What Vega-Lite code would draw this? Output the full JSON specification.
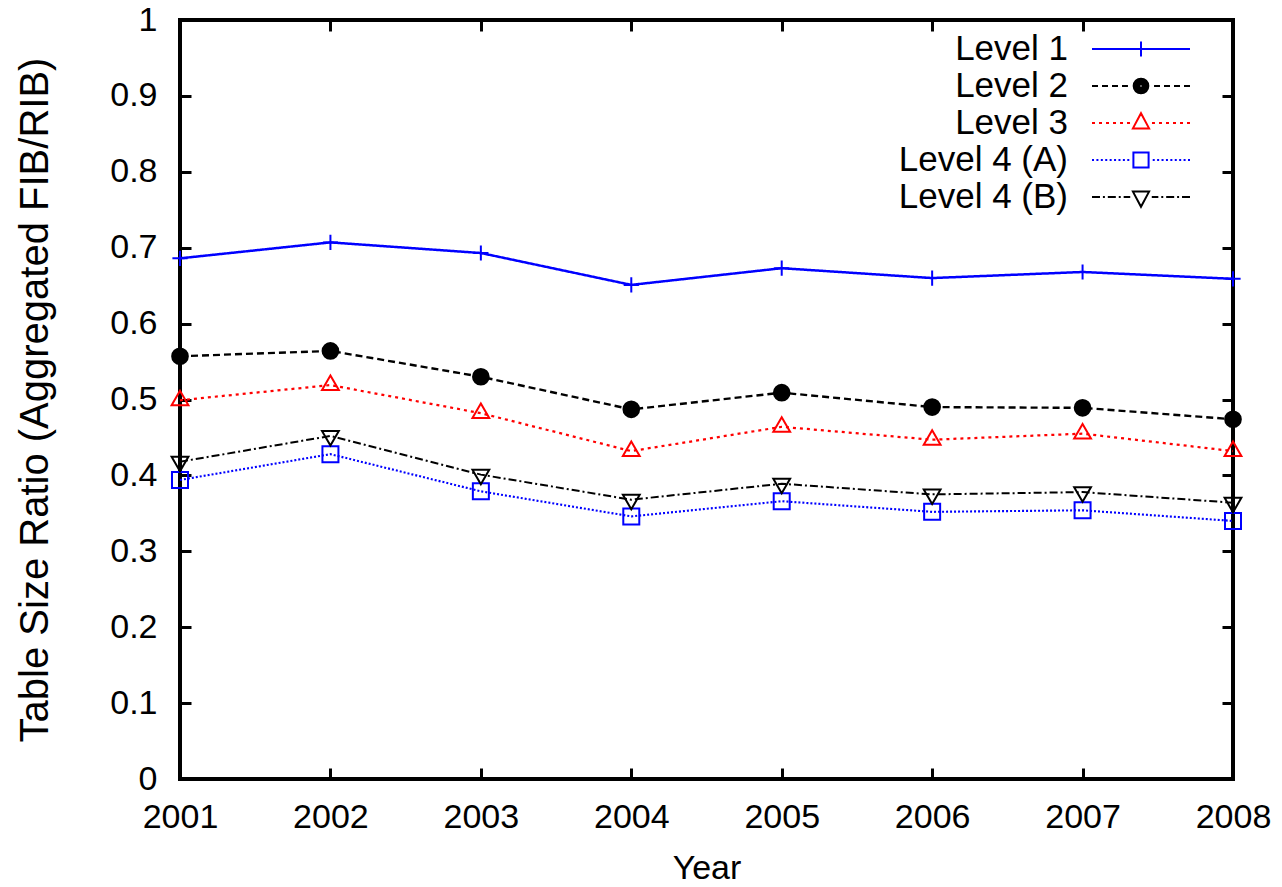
{
  "$schema": "https://vega.github.io/schema/vega-lite/v6.json",
  "width": 1053,
  "height": 759,
  "autosize": "none",
  "padding": {"left": 180, "top": 20, "right": 49, "bottom": 108},
  "background": "white",
  "data": {
    "values": [
      {"series": "Level 1", "year": 2001, "ratio": 0.686},
      {"series": "Level 1", "year": 2002, "ratio": 0.707},
      {"series": "Level 1", "year": 2003, "ratio": 0.693},
      {"series": "Level 1", "year": 2004, "ratio": 0.651},
      {"series": "Level 1", "year": 2005, "ratio": 0.673},
      {"series": "Level 1", "year": 2006, "ratio": 0.660},
      {"series": "Level 1", "year": 2007, "ratio": 0.668},
      {"series": "Level 1", "year": 2008, "ratio": 0.659},
      {"series": "Level 2", "year": 2001, "ratio": 0.557},
      {"series": "Level 2", "year": 2002, "ratio": 0.564},
      {"series": "Level 2", "year": 2003, "ratio": 0.530},
      {"series": "Level 2", "year": 2004, "ratio": 0.487},
      {"series": "Level 2", "year": 2005, "ratio": 0.509},
      {"series": "Level 2", "year": 2006, "ratio": 0.490},
      {"series": "Level 2", "year": 2007, "ratio": 0.489},
      {"series": "Level 2", "year": 2008, "ratio": 0.474},
      {"series": "Level 3", "year": 2001, "ratio": 0.499},
      {"series": "Level 3", "year": 2002, "ratio": 0.519},
      {"series": "Level 3", "year": 2003, "ratio": 0.482},
      {"series": "Level 3", "year": 2004, "ratio": 0.432},
      {"series": "Level 3", "year": 2005, "ratio": 0.464},
      {"series": "Level 3", "year": 2006, "ratio": 0.447},
      {"series": "Level 3", "year": 2007, "ratio": 0.455},
      {"series": "Level 3", "year": 2008, "ratio": 0.432},
      {"series": "Level 4 (A)", "year": 2001, "ratio": 0.394},
      {"series": "Level 4 (A)", "year": 2002, "ratio": 0.428},
      {"series": "Level 4 (A)", "year": 2003, "ratio": 0.379},
      {"series": "Level 4 (A)", "year": 2004, "ratio": 0.346},
      {"series": "Level 4 (A)", "year": 2005, "ratio": 0.366},
      {"series": "Level 4 (A)", "year": 2006, "ratio": 0.352},
      {"series": "Level 4 (A)", "year": 2007, "ratio": 0.354},
      {"series": "Level 4 (A)", "year": 2008, "ratio": 0.340},
      {"series": "Level 4 (B)", "year": 2001, "ratio": 0.418},
      {"series": "Level 4 (B)", "year": 2002, "ratio": 0.452},
      {"series": "Level 4 (B)", "year": 2003, "ratio": 0.401},
      {"series": "Level 4 (B)", "year": 2004, "ratio": 0.368},
      {"series": "Level 4 (B)", "year": 2005, "ratio": 0.389},
      {"series": "Level 4 (B)", "year": 2006, "ratio": 0.375},
      {"series": "Level 4 (B)", "year": 2007, "ratio": 0.378},
      {"series": "Level 4 (B)", "year": 2008, "ratio": 0.364}
    ]
  },
  "layer": [
    {
      "mark": {"type": "line"},
      "encoding": {
        "x": {
          "field": "year", "type": "quantitative",
          "scale": {"domain": [2001, 2008], "nice": false, "zero": false},
          "axis": {
            "orient": "bottom",
            "values": [2001, 2002, 2003, 2004, 2005, 2006, 2007, 2008],
            "format": "d",
            "labelPadding": 32,
            "title": "Year",
            "titleFontSize": 34,
            "titlePadding": 17
          }
        },
        "y": {
          "field": "ratio", "type": "quantitative",
          "scale": {"domain": [0, 1], "nice": false, "zero": true},
          "axis": {
            "orient": "left",
            "values": [0, 0.1, 0.2, 0.3, 0.4, 0.5, 0.6, 0.7, 0.8, 0.9, 1],
            "format": ".1~f",
            "labelPadding": 34,
            "title": "Table Size Ratio (Aggregated FIB/RIB)",
            "titleFontSize": 40,
            "titlePadding": 54
          }
        },
        "stroke": {
          "field": "series", "type": "nominal",
          "scale": {"domain": ["Level 1", "Level 2", "Level 3", "Level 4 (A)", "Level 4 (B)"], "range": ["#0000ff", "#000000", "#ff0000", "#0000ff", "#000000"]},
          "legend": null
        },
        "strokeDash": {
          "field": "series", "type": "nominal",
          "scale": {"domain": ["Level 1", "Level 2", "Level 3", "Level 4 (A)", "Level 4 (B)"], "range": [[1, 0], [7, 4], [3, 4], [2, 2], [8, 3, 2, 3]]},
          "legend": null
        },
        "strokeWidth": {
          "field": "series", "type": "nominal",
          "scale": {"domain": ["Level 1", "Level 2", "Level 3", "Level 4 (A)", "Level 4 (B)"], "range": [2.5, 2, 2, 2, 2]},
          "legend": null
        }
      }
    },
    {
      "mark": {"type": "point", "opacity": 1, "size": 256, "strokeWidth": 2},
      "encoding": {
        "x": {"field": "year", "type": "quantitative", "axis": null},
        "y": {"field": "ratio", "type": "quantitative", "axis": null},
        "shape": {
          "field": "series", "type": "nominal",
          "scale": {
            "domain": ["Level 1", "Level 2", "Level 3", "Level 4 (A)", "Level 4 (B)"],
            "range": [
              "M-0.95,0H0.95M0,-0.95V0.95",
              "M0.98,0A0.98,0.98 0 1,1 -0.98,0A0.98,0.98 0 1,1 0.98,0Z",
              "M0,-1.2L1.05,0.62L-1.05,0.62Z",
              "M-1,-1H1V1H-1Z",
              "M0,1.2L1.05,-0.62L-1.05,-0.62Z"
            ]
          },
          "legend": null
        },
        "stroke": {
          "field": "series", "type": "nominal",
          "scale": {"domain": ["Level 1", "Level 2", "Level 3", "Level 4 (A)", "Level 4 (B)"], "range": ["#0000ff", "#000000", "#ff0000", "#0000ff", "#000000"]},
          "legend": null
        },
        "fill": {
          "field": "series", "type": "nominal",
          "scale": {"domain": ["Level 1", "Level 2", "Level 3", "Level 4 (A)", "Level 4 (B)"], "range": ["transparent", "#000000", "transparent", "transparent", "transparent"]},
          "legend": null
        }
      }
    },
    {
      "transform": [{"filter": "datum.year > 3000"}],
      "mark": {"type": "point", "opacity": 1, "filled": false},
      "encoding": {
        "x": {
          "field": "year", "type": "quantitative",
          "axis": {"orient": "top", "values": [2001, 2002, 2003, 2004, 2005, 2006, 2007, 2008], "labels": false, "title": null}
        },
        "y": {
          "field": "ratio", "type": "quantitative",
          "axis": {"orient": "right", "values": [0, 0.1, 0.2, 0.3, 0.4, 0.5, 0.6, 0.7, 0.8, 0.9, 1], "labels": false, "title": null}
        },
        "shape": {
          "field": "series", "type": "nominal",
          "scale": {
            "domain": ["Level 1", "Level 2", "Level 3", "Level 4 (A)", "Level 4 (B)"],
            "range": [
              "M-2.8,0H2.8M0,-0.434V0.434",
              "M-2.8,0H-2.458M-2.229,0H-1.887M-1.658,0H-1.316M-1.086,0H-0.745M0.745,0H1.086M1.316,0H1.658M1.887,0H2.229M2.458,0H2.8M0.42,0A0.42,0.42 0 1,1 -0.42,0A0.42,0.42 0 1,1 0.42,0ZM0.308,0A0.308,0.308 0 1,1 -0.308,0A0.308,0.308 0 1,1 0.308,0ZM0.196,0A0.196,0.196 0 1,1 -0.196,0A0.196,0.196 0 1,1 0.196,0ZM0.098,0A0.098,0.098 0 1,1 -0.098,0A0.098,0.098 0 1,1 0.098,0Z",
              "M-2.8,0H-2.629M-2.4,0H-2.229M-1.999,0H-1.828M-1.599,0H-1.428M-1.198,0H-1.028M-0.798,0H-0.627M0.627,0H0.798M1.028,0H1.198M1.428,0H1.599M1.828,0H1.999M2.229,0H2.4M2.629,0H2.8M0,-0.56L0.462,0.308L-0.462,0.308Z",
              "M-2.8,0H-2.685M-2.548,0H-2.433M-2.296,0H-2.181M-2.044,0H-1.929M-1.792,0H-1.677M-1.54,0H-1.425M-1.288,0H-1.173M-1.036,0H-0.921M-0.784,0H-0.669M0.669,0H0.784M0.921,0H1.036M1.173,0H1.288M1.425,0H1.54M1.677,0H1.792M1.929,0H2.044M2.181,0H2.296M2.433,0H2.548M2.685,0H2.8M-0.434,-0.434H0.434V0.434H-0.434Z",
              "M-2.8,0H-2.344M-2.176,0H-2.064M-1.896,0H-1.439M-1.271,0H-1.159M-0.991,0H-0.616M0.616,0H0.991M1.159,0H1.271M1.439,0H1.896M2.064,0H2.176M2.344,0H2.8M0,0.56L0.462,-0.308L-0.462,-0.308Z"
            ]
          },
          "legend": {
            "title": null, "orient": "none", "legendX": 942.5, "legendY": 10.5,
            "symbolSize": 1225, "symbolStrokeWidth": 2, "symbolFillColor": "transparent", "symbolOpacity": 1,
            "labelAlign": "right", "labelOffset": -91.5, "labelFont": "Liberation Sans",
            "labelFontSize": 35, "labelColor": "black", "labelLimit": 400,
            "rowPadding": 0, "padding": 0
          }
        },
        "stroke": {
          "field": "series", "type": "nominal",
          "scale": {"domain": ["Level 1", "Level 2", "Level 3", "Level 4 (A)", "Level 4 (B)"], "range": ["#0000ff", "#000000", "#ff0000", "#0000ff", "#000000"]},
          "legend": {
            "title": null, "orient": "none", "legendX": 942.5, "legendY": 10.5,
            "symbolSize": 1225, "symbolStrokeWidth": 2, "symbolFillColor": "transparent", "symbolOpacity": 1,
            "labelAlign": "right", "labelOffset": -91.5, "labelFont": "Liberation Sans",
            "labelFontSize": 35, "labelColor": "black", "labelLimit": 400,
            "rowPadding": 0, "padding": 0
          }
        }
      }
    }
  ],
  "resolve": {
    "scale": {"shape": "independent", "stroke": "independent", "fill": "independent", "strokeDash": "independent", "strokeWidth": "independent"},
    "axis": {"x": "independent", "y": "independent"}
  },
  "config": {
    "view": {"stroke": "black", "strokeWidth": 4},
    "axis": {
      "grid": false,
      "domain": false,
      "ticks": true,
      "tickColor": "black",
      "tickWidth": 3,
      "tickSize": -11,
      "labelFont": "Liberation Sans",
      "labelFontSize": 34,
      "labelColor": "black",
      "labelFlush": false,
      "labelOverlap": false,
      "titleFont": "Liberation Sans",
      "titleFontWeight": "normal",
      "titleColor": "black"
    }
  }
}
